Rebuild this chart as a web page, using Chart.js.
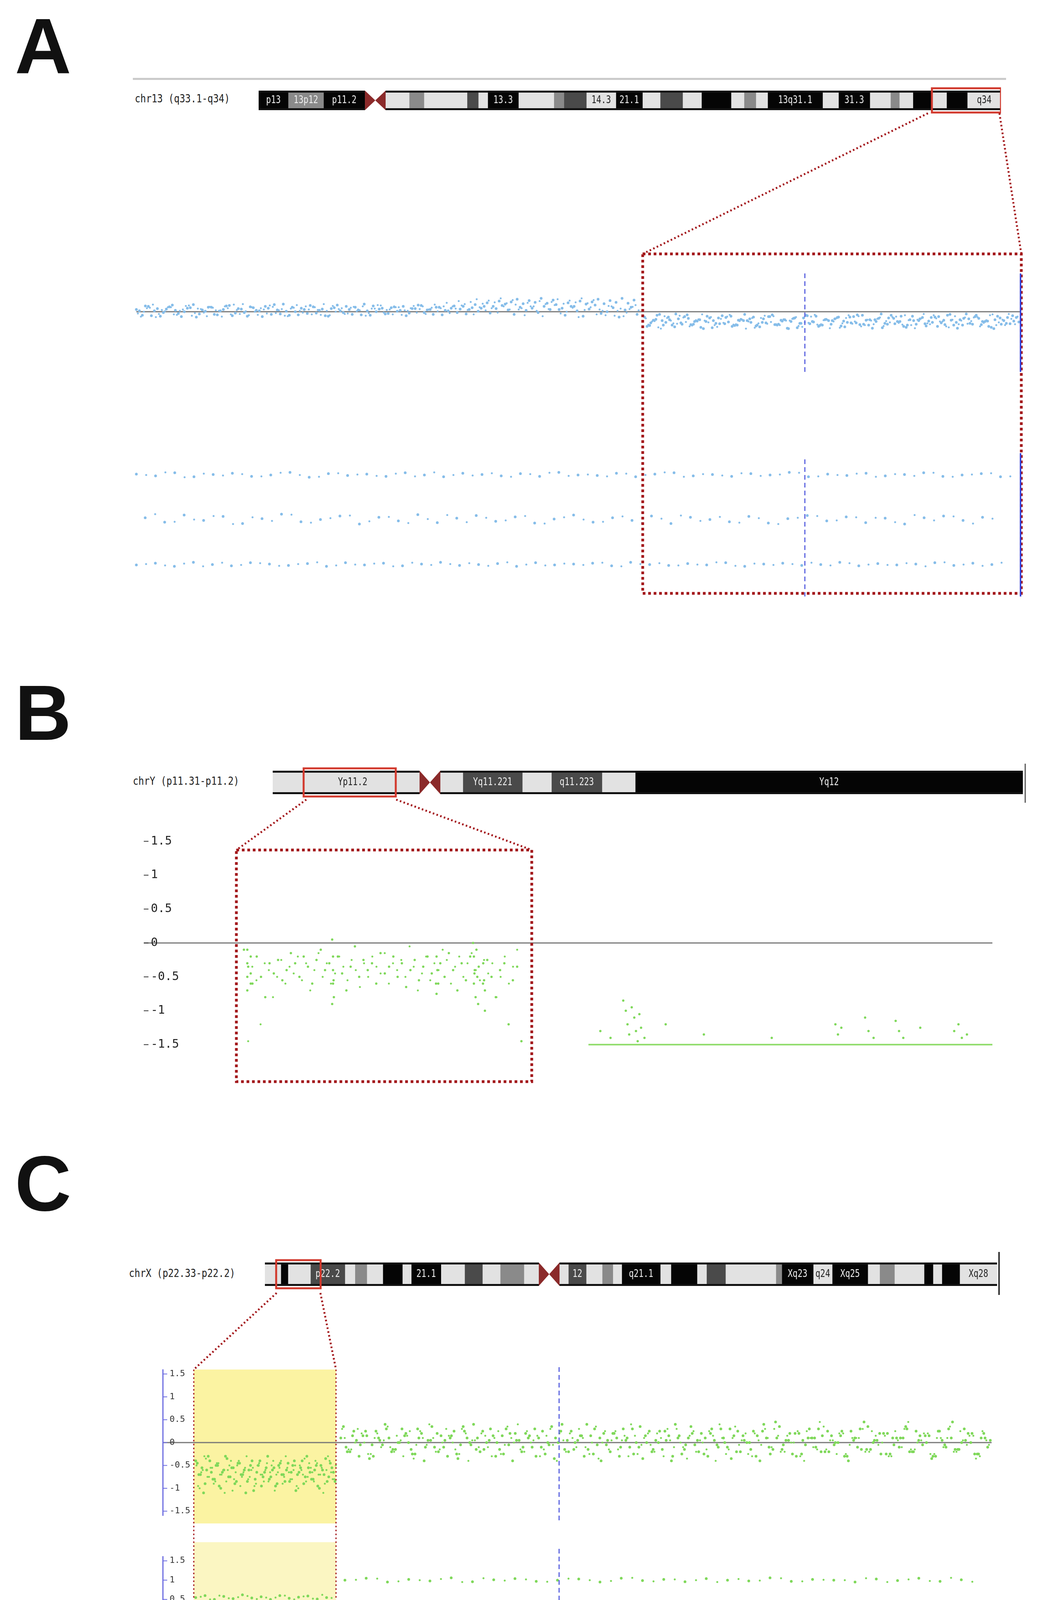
<!DOCTYPE html>
<html><head><meta charset="utf-8">
<script src="https://cdn.jsdelivr.net/npm/chart.js@4"></script>
<style>
body{margin:0;width:2690px;height:4424px;background:#fff;position:relative;overflow:hidden}
canvas{position:absolute}
svg{position:absolute;left:0;top:0}
.lbl{position:absolute;font-family:"DejaVu Sans Mono",monospace;font-size:29px;color:#222;transform:scaleX(0.82);transform-origin:left center;white-space:nowrap}
.let{position:absolute;font-family:"Liberation Sans",Arial,sans-serif;font-weight:bold;font-size:200px;color:#111;line-height:1}
</style></head><body>
<svg id="bg" width="2690" height="4424" style="z-index:0">
<rect x="496" y="3506" width="364" height="394" fill="#fbf3a2"/>
<rect x="496" y="3948" width="364" height="392" fill="#fbf6c2"/>
</svg>
<div class="let" style="left:38px;top:18px">A</div>
<div class="let" style="left:38px;top:1725px">B</div>
<div class="let" style="left:38px;top:2930px">C</div>
<div class="lbl" style="left:345px;top:235px">chr13 (q33.1-q34)</div>
<div class="lbl" style="left:340px;top:1982px">chrY (p11.31-p11.2)</div>
<div class="lbl" style="left:330px;top:3242px">chrX (p22.33-p22.2)</div>
<canvas id="ideo13" width="1900" height="70" style="left:662px;top:222px;z-index:1"></canvas>
<canvas id="ideoY" width="1920" height="80" style="left:698px;top:1963px;z-index:1"></canvas>
<canvas id="ideoX" width="1874" height="80" style="left:678px;top:3222px;z-index:1"></canvas>
<canvas id="aTop" width="2270" height="350" style="left:345px;top:623px;z-index:1"></canvas>
<canvas id="aBot" width="2270" height="350" style="left:345px;top:1155px;z-index:1"></canvas>
<canvas id="bCh" width="2180" height="598" style="left:364px;top:2115px;z-index:1"></canvas>
<canvas id="cTop" width="2130" height="406" style="left:412px;top:3490px;z-index:1"></canvas>
<canvas id="cBot" width="2130" height="344" style="left:412px;top:3972px;z-index:1"></canvas>
<svg id="fg" width="2690" height="4424" style="z-index:2;pointer-events:none">
<line x1="340" y1="202" x2="2575" y2="202" stroke="#c8c8c8" stroke-width="5"/>
<g stroke="#a3161a" stroke-width="5" stroke-dasharray="4 6" fill="none">
<line x1="2375" y1="290" x2="1645" y2="650"/><line x1="2558" y1="290" x2="2614" y2="650"/>
<rect x="1645" y="650" width="969" height="869" stroke-width="7" stroke-dasharray="7 7"/>
<line x1="784" y1="2047" x2="605" y2="2176"/><line x1="1014" y1="2047" x2="1361" y2="2176"/>
<rect x="605" y="2176" width="756" height="593" stroke-width="7" stroke-dasharray="7 7"/>
<line x1="708" y1="3310" x2="496" y2="3506"/><line x1="820" y1="3310" x2="860" y2="3506"/>
<line x1="496" y1="3506" x2="496" y2="4340" stroke-width="3"/><line x1="860" y1="3506" x2="860" y2="4340" stroke-width="3"/>
</g>
<g stroke="#5a62e0" stroke-width="3" stroke-dasharray="12 8">
<line x1="2060" y1="700" x2="2060" y2="952"/><line x1="2060" y1="1176" x2="2060" y2="1527"/>
<line x1="1431" y1="3500" x2="1431" y2="3900"/><line x1="1431" y1="3965" x2="1431" y2="4340"/>
</g>
<g stroke="#3b46d8" stroke-width="4">
<line x1="2612" y1="700" x2="2612" y2="952"/><line x1="2612" y1="1160" x2="2612" y2="1527"/>
</g>
<line x1="2624" y1="1955" x2="2624" y2="2055" stroke="#555" stroke-width="3"/>
<line x1="2557" y1="3205" x2="2557" y2="3315" stroke="#333" stroke-width="4"/>
</svg>
<script>
// ---------- DATA ----------
const chr13Bands=[[240,290,'k','p13'],[290,350,'g','13p12'],[350,420,'k','p11.2'],[455,495,'l',''],[495,520,'g',''],[520,593,'l',''],[593,612,'d',''],[612,628,'l',''],[628,680,'k','13.3'],[680,740,'l',''],[740,757,'g',''],[757,795,'d',''],[795,845,'l','14.3'],[845,890,'k','21.1'],[890,920,'l',''],[920,958,'d',''],[958,990,'l',''],[990,1040,'k',''],[1040,1062,'l',''],[1062,1082,'g',''],[1082,1102,'l',''],[1102,1195,'k','13q31.1'],[1195,1222,'l',''],[1222,1275,'k','31.3'],[1275,1310,'l',''],[1310,1325,'g',''],[1325,1348,'l',''],[1348,1380,'k',''],[1380,1405,'l',''],[1405,1440,'k',''],[1440,1497,'l','q34']];
const chr13Cen=[420,455], chr13Box=[1380,1497];
const chrYBands=[[268,330,'l',''],[330,475,'l','Yp11.2'],[475,515,'l',''],[550,588,'l',''],[588,688,'d','Yq11.221'],[688,737,'l',''],[737,822,'d','q11.223'],[822,878,'l',''],[878,1530,'k','Yq12']];
const chrYCen=[515,550], chrYBox=[320,475];
const chrXBands=[[253,280,'l',''],[280,292,'k',''],[292,330,'l',''],[330,388,'d','p22.2'],[388,405,'l',''],[405,425,'g',''],[425,452,'l',''],[452,485,'k',''],[485,500,'l',''],[500,550,'k','21.1'],[550,590,'l',''],[590,620,'d',''],[620,650,'l',''],[650,690,'g',''],[690,715,'l',''],[750,765,'l',''],[765,795,'d','12'],[795,822,'l',''],[822,840,'g',''],[840,855,'l',''],[855,920,'k','q21.1'],[920,938,'l',''],[938,982,'k',''],[982,998,'l',''],[998,1030,'d',''],[1030,1115,'l',''],[1115,1125,'g',''],[1125,1178,'k','Xq23'],[1178,1210,'l','q24'],[1210,1270,'k','Xq25'],[1270,1290,'l',''],[1290,1315,'g',''],[1315,1365,'l',''],[1365,1380,'k',''],[1380,1395,'l',''],[1395,1425,'k',''],[1425,1488,'l','Xq28']];
const chrXCen=[715,750], chrXBox=[272,347];
const bandColors={k:'#050505',d:'#4a4a4a',g:'#8a8a8a',l:'#e2e2e2'};

const aTopLeft=[0.05,-0.08,0.12,0.02,-0.1,0.06,0.15,-0.04,0.0,0.09,-0.12,0.04,0.1,-0.06,0.02,0.13,-0.09,0.07,-0.02,0.11,0.03,-0.11,0.08,0.16,-0.05,0.01,0.1,-0.07,0.05,0.14,-0.03,0.06,-0.1,0.09,0.02,0.12,-0.06,0.04,0.17,-0.08,0.0,0.08,-0.04,0.11,0.03,-0.09,0.07,0.15,-0.02,0.05,0.1,-0.07,0.02,0.13,0.06,-0.05,0.09,0.01,0.12,-0.03,0.07,0.14,0.04,-0.06,0.1,0.03,0.08,-0.02,0.12,0.05,0.16,0.08,0.2,0.12,0.24,0.17,0.22,0.28,0.18,0.25,0.21,0.3,0.19,0.26];
const aTopRight=[-0.12,-0.25,-0.08,-0.3,-0.18,-0.05,-0.28,-0.15,-0.22,-0.35,-0.1,-0.2,-0.27,-0.13,-0.33,-0.19,-0.06,-0.24,-0.3,-0.16,-0.11,-0.29,-0.21,-0.38,-0.14,-0.26,-0.09,-0.23,-0.31,-0.17,-0.2,-0.12,-0.34,-0.25,-0.07,-0.28,-0.18,-0.22,-0.36,-0.14,-0.27,-0.1,-0.3,-0.2,-0.16,-0.32,-0.24,-0.11,-0.29,-0.19,-0.37,-0.15,-0.26,-0.08,-0.22,-0.33,-0.18,-0.28,-0.13,-0.21];
const aRow1=[1.02,0.98,1.05,0.96,1.01,1.04,0.97,1.0,1.06,0.95,1.03,0.99,1.02,0.97,1.05,1.0,0.96,1.04,1.01,0.98,1.03,0.97,1.06,1.0,0.99,1.04,0.96,1.02,1.05,0.98,1.01,0.97,1.03,1.0,1.06,0.96,1.02,0.99,1.04,0.98,1.01,1.05,0.97,1.0,1.03,0.96];
const aRow0=[0.04,-0.06,0.1,-0.02,0.07,-0.09,0.02,0.12,-0.05,0.0,0.08,-0.1,0.05,-0.03,0.11,-0.07,0.03,0.09,-0.04,0.06,-0.08,0.01,0.1,-0.06,0.04,-0.02,0.08,-0.09,0.05,0.0,-0.05,0.07,-0.08,0.02,0.09,-0.03,0.06,-0.07,0.03,-0.1,0.04,0.08,-0.02,0.05];
const aRowM1=[-1.02,-0.98,-1.05,-0.96,-1.01,-1.04,-0.97,-1.0,-1.03,-0.99,-1.05,-0.97,-1.02,-0.98,-1.04,-1.0,-0.96,-1.03,-1.01,-0.99,-1.05,-0.97,-1.02,-1.0,-0.98,-1.04,-0.96,-1.01,-1.03,-0.99,-1.02,-0.97,-1.05,-1.0,-0.98,-1.03,-1.01,-0.96,-1.04,-0.99,-1.02,-1.0,-0.97,-1.03,-0.98,-1.01];

const bBox=[-0.1,-0.35,-0.6,-0.2,-0.5,-0.8,-0.3,-0.45,-0.25,-0.55,-0.4,-0.15,-0.3,-0.5,-0.2,-0.35,-0.6,-0.25,-0.1,-0.4,-0.3,-0.55,-0.2,-0.45,-0.7,-0.35,-0.05,-0.5,-0.25,-0.4,-0.3,-0.6,-0.15,-0.45,-0.35,-0.2,-0.5,-0.3,-0.65,-0.4,-0.25,-0.55,-0.35,-0.2,-0.45,-0.6,-0.3,-0.5,-0.15,-0.4,-0.7,-0.3,-0.55,-0.2,-0.45,-0.35,-0.6,-0.25,-0.5,-0.8,-0.4,-0.3,-1.2,-0.55,-0.35,-1.45];
const bSpikes=[[12.2,-0.1],[12.2,-0.3],[12.2,-0.5],[12.2,-0.7],[12.6,-0.2],[12.6,-0.45],[12.6,-0.6],[22.2,0.05],[22.3,-0.2],[22.3,-0.4],[22.3,-0.6],[22.4,-0.8],[22.2,-0.9],[34.5,-0.2],[34.6,-0.4],[34.7,-0.6],[34.5,-0.75],[38.8,0.0],[38.9,-0.2],[39.0,-0.4],[38.9,-0.6],[39.1,-0.8],[39.2,-0.1],[39.3,-0.5],[39.4,-0.9],[40.0,-0.3],[40.1,-0.55],[40.2,-0.7],[40.2,-1.0]];
const bBase=[[52.4,-1.5],[100,-1.5]];
const bRight=[[56.5,-0.85],[56.8,-1.0],[57.0,-1.2],[57.2,-1.35],[57.5,-0.95],[57.8,-1.1],[58.0,-1.3],[58.2,-1.45],[58.4,-1.05],[58.6,-1.25],[59.0,-1.4],[53.8,-1.3],[55.0,-1.4],[61.5,-1.2],[66,-1.35],[74,-1.4],[81.5,-1.2],[81.8,-1.35],[82.2,-1.25],[85,-1.1],[85.4,-1.3],[86,-1.4],[88.6,-1.15],[89,-1.3],[89.5,-1.4],[91.5,-1.25],[95.5,-1.3],[96,-1.2],[96.4,-1.4],[97,-1.35]];

const cYellow=[-0.4,-0.7,-0.55,-0.9,-0.3,-0.65,-0.8,-0.5,-1.0,-0.6,-0.35,-0.75,-0.55,-0.85,-0.45,-0.7,-1.1,-0.6,-0.4,-0.8,-0.5,-0.95,-0.65,-0.3,-0.75,-0.55,-0.9,-0.45,-0.7,-0.6,-0.85,-0.5,-1.05,-0.65,-0.4,-0.75,-0.55,-0.8,-0.6,-0.95,-0.5,-0.7,-0.85,-0.45,-0.65];
const cRest=[0.1,-0.2,0.25,-0.05,0.15,-0.3,0.05,0.3,-0.15,0.0,0.2,-0.25,0.1,-0.1,0.35,-0.2,0.05,0.15,-0.35,0.25,-0.05,0.1,-0.15,0.3,0.0,-0.25,0.2,0.05,-0.1,0.15,-0.3,0.25,-0.05,0.1,0.4,-0.2,0.0,0.15,-0.15,0.3,-0.4,0.05,0.2,-0.1,0.1,-0.25,0.35,0.0,-0.15,0.25,0.05,-0.3,0.15,-0.05,0.2,-0.2,0.1,0.3,-0.1,0.0,-0.35,0.25,0.05,-0.15,0.15,0.4,-0.25,0.1,-0.05,0.2,-0.3,0.05,0.3,-0.1,0.15,-0.2,0.0,0.25,-0.4,0.1,-0.15,0.35,0.05,-0.25,0.2,-0.05,0.1,0.3,-0.2,0.15,0.0,-0.3,0.25,-0.1,0.45,-0.15,0.05,0.2,-0.25,0.1];
const cRow1=[1.0,1.05,0.95,1.02,0.98,1.06,0.96,1.01,1.04,0.97,1.0,1.03,0.95,1.05,0.99,1.02,0.96,1.04,1.0,0.98,1.06,0.97,1.02,1.0,0.95,1.03,0.99,1.05,0.97,1.01];
const cRow0=[0.02,-0.04,0.06,-0.02,0.04,-0.06,0.0,0.05,-0.03,0.03,-0.05,0.06,-0.01,0.04,-0.04,0.02,0.05,-0.06,0.01,-0.02,0.04,-0.05,0.03,0.0,-0.03,0.06,-0.04,0.02,0.05,-0.02];
const cRowM1=[-1.0,-1.05,-0.95,-1.02,-0.98,-1.06,-0.96,-1.01,-1.04,-0.97,-1.0,-1.03,-0.95,-1.05,-0.99,-1.02,-0.96,-1.04,-1.0,-0.98,-1.06,-0.97,-1.02,-1.0,-0.95,-1.03,-0.99,-1.05,-0.97,-1.01];
const cYRowHi=[0.55,0.6,0.5,0.58,0.52,0.62,0.54,0.57,0.5,0.6,0.53,0.56,0.59,0.51,0.55];
const cYRowLo=[-0.55,-0.6,-0.5,-0.58,-0.52,-0.62,-0.54,-0.57,-0.5,-0.6,-0.53,-0.56,-0.59,-0.51,-0.55];
const yTicks=[1.5,1,0.5,0,-0.5,-1,-1.5];

// ---------- HELPERS ----------
Chart.defaults.animation=false;
function spread(vals,x0,x1){const n=vals.length;return vals.map((v,i)=>({x:x0+(x1-x0)*i/(n-1),y:v}));}
// several passes over the same values, reordered, to thicken the cloud
function dense(vals,x0,x1,style,k){
  const out=[];const n=vals.length;const dx=(x1-x0)/(n-1);
  for(let j=0;j<k;j++){const rot=vals.slice(j*7%n).concat(vals.slice(0,j*7%n));
    out.push(Object.assign({data:spread(rot,x0+dx*j/k,x1-dx*(1-j/k))},style,{pointRadius:j%2?2.5:3.5}));}
  return out;
}
function ideogram(id,bands,cen,box){
  const ds=bands.map(b=>({data:[[b[0],b[1]]],backgroundColor:bandColors[b[2]],borderWidth:0,barPercentage:1,categoryPercentage:1,grouped:false,lab:b[3],key:b[2]}));
  const mn=bands[0][0], mx=bands[bands.length-1][1];
  new Chart(document.getElementById(id),{type:'bar',data:{labels:['c'],datasets:ds},
    options:{indexAxis:'y',responsive:false,devicePixelRatio:1,layout:{padding:{top:10,bottom:10}},
      plugins:{legend:{display:false},tooltip:{enabled:false}},
      scales:{x:{type:'linear',min:mn,max:mx,display:false},y:{display:false}}},
    plugins:[{id:'deco',afterDatasetsDraw(ch){
      const c=ch.ctx,xs=ch.scales.x,a=ch.chartArea;
      c.fillStyle='#111';c.fillRect(a.left,a.top,a.right-a.left,5);c.fillRect(a.left,a.bottom-5,a.right-a.left,5);
      const x0=xs.getPixelForValue(cen[0]),x1=xs.getPixelForValue(cen[1]),xm=(x0+x1)/2,ym=(a.top+a.bottom)/2;
      c.fillStyle='#fff';c.fillRect(x0,a.top,x1-x0,a.bottom-a.top);
      c.fillStyle='#8b2a2a';c.beginPath();c.moveTo(x0,a.top);c.lineTo(xm,ym);c.lineTo(x0,a.bottom);c.closePath();c.fill();
      c.beginPath();c.moveTo(x1,a.top);c.lineTo(xm,ym);c.lineTo(x1,a.bottom);c.closePath();c.fill();
      c.font='26px "DejaVu Sans Mono"';c.textBaseline='middle';c.textAlign='center';
      ch.data.datasets.forEach(d=>{if(!d.lab)return;const p=(xs.getPixelForValue(d.data[0][0])+xs.getPixelForValue(d.data[0][1]))/2;
        c.fillStyle=(d.key==='l')?'#222':'#eee';c.save();c.translate(p,ym);c.scale(0.8,1);c.fillText(d.lab,0,0);c.restore();});
      const b0=xs.getPixelForValue(box[0]),b1=xs.getPixelForValue(box[1]);
      c.strokeStyle='#d23a2e';c.lineWidth=5;c.strokeRect(b0,a.top-6,b1-b0,a.bottom-a.top+12);
    }}]});
}
function scatter(id,ymin,ymax,datasets,axis){
  new Chart(document.getElementById(id),{type:'scatter',data:{datasets},
    options:{responsive:false,devicePixelRatio:1,layout:{padding:0},
      plugins:{legend:{display:false},tooltip:{enabled:false}},
      scales:{x:{type:'linear',min:0,max:100,display:false},y:{type:'linear',min:ymin,max:ymax,display:false}}},
    plugins:[{id:'axisDeco',beforeDatasetsDraw(ch){
      const c=ch.ctx,ys=ch.scales.y,xs=ch.scales.x;
      if(axis&&axis.zero){c.strokeStyle='#777';c.lineWidth=3;c.beginPath();const y0=ys.getPixelForValue(0);c.moveTo(xs.getPixelForValue(axis.zero[0]),y0);c.lineTo(xs.getPixelForValue(axis.zero[1]),y0);c.stroke();}
      if(!axis||!axis.ticks)return;
      const L=xs.left;
      if(axis.line){c.strokeStyle=axis.line;c.lineWidth=3;c.beginPath();c.moveTo(L+1,ys.getPixelForValue(axis.ticks[0])-12);c.lineTo(L+1,ys.getPixelForValue(axis.ticks[axis.ticks.length-1])+12);c.stroke();}
      c.font=axis.font;c.fillStyle=axis.color;c.textBaseline='middle';c.textAlign='left';
      axis.ticks.forEach(t=>{const y=ys.getPixelForValue(t);c.strokeStyle=axis.line||'#333';c.lineWidth=2;c.beginPath();c.moveTo(L,y);c.lineTo(L+12,y);c.stroke();c.fillText(String(t),L+18,y);});
    }}]});
}
const blue={backgroundColor:'#86bde9',borderWidth:0,pointRadius:3,clip:false};
const green={backgroundColor:'#7fd85a',borderWidth:0,pointRadius:3,clip:false};

ideogram('ideo13',chr13Bands,chr13Cen,chr13Box);
ideogram('ideoY',chrYBands,chrYCen,chrYBox);
ideogram('ideoX',chrXBands,chrXCen,chrXBox);

scatter('aTop',-1.5,1.5,[].concat(dense(aTopLeft,0,57,blue,4),dense(aTopRight,57.5,100,blue,5)),{zero:[0,100]});
scatter('aBot',-1.5,1.5,[].concat(dense(aRow1,0,100,blue,2),dense(aRow0,1,98,blue,2),dense(aRowM1,0,99,blue,2)));
scatter('bCh',-1.7,1.7,[
  {type:'line',data:bBase,borderColor:'#8fdc6a',borderWidth:4,pointRadius:0,clip:false},
  Object.assign({data:spread(bBox,11.8,44.5)},green),
  Object.assign({data:spread(bBox.slice().reverse(),12.3,44)},green,{pointRadius:2.5}),
  Object.assign({data:bSpikes.map(p=>({x:p[0],y:p[1]}))},green),
  Object.assign({data:bRight.map(p=>({x:p[0],y:p[1]}))},green)
],{zero:[0,100],ticks:yTicks,font:'30px "DejaVu Sans Mono"',color:'#222'});
scatter('cTop',-1.7,1.7,[].concat(dense(cYellow,4,21,green,4),dense(cRest,21.5,100,green,5)),
  {zero:[0,100],ticks:yTicks,font:'22px "DejaVu Sans Mono"',color:'#333',line:'#6a6ae0'});
scatter('cBot',-1.7,1.7,[].concat(dense(cYRowHi,4,21,green,2),dense(cYRowLo,4,21,green,2),dense(cRow1,22,99,green,2),dense(cRow0,22,98,green,2),dense(cRowM1,22,99,green,2)),
  {ticks:yTicks,font:'22px "DejaVu Sans Mono"',color:'#333',line:'#6a6ae0'});
</script>
</body></html>
